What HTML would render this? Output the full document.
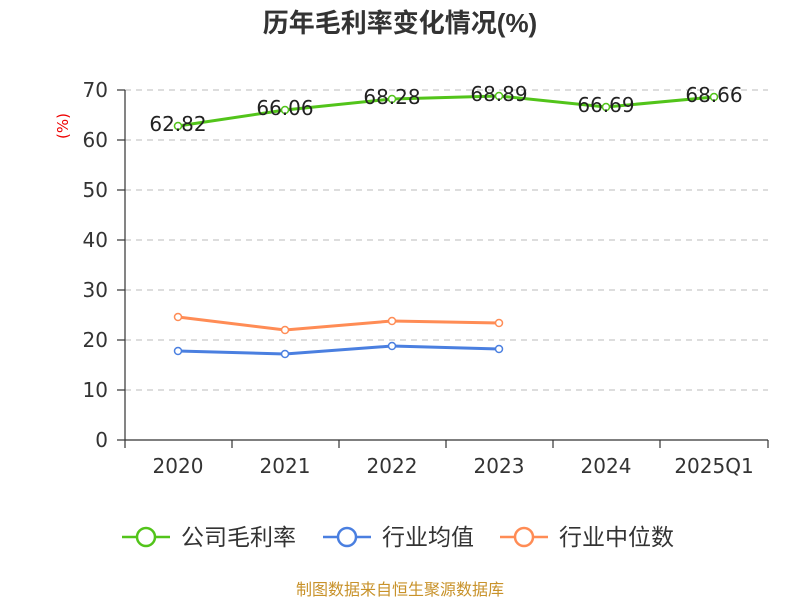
<!DOCTYPE html>
<html><head><meta charset="utf-8"><style>
body{margin:0;background:#fff;}
svg text{font-family:"DejaVu Sans","Noto Sans CJK SC",sans-serif;}
</style></head><body>
<svg width="800" height="600" xmlns="http://www.w3.org/2000/svg">
<rect width="800" height="600" fill="#fff"/>
<text x="400" y="32" text-anchor="middle" font-size="26" font-weight="bold" fill="#333" style="font-family:'Liberation Sans','Noto Sans CJK SC',sans-serif">历年毛利率变化情况(%)</text>
<text transform="translate(68,126) rotate(-90)" text-anchor="middle" font-size="15" fill="#e00">(%)</text>
<g stroke="#bbb" stroke-dasharray="6,5" stroke-width="1">
<line x1="125" y1="90" x2="768" y2="90"/><line x1="125" y1="140" x2="768" y2="140"/>
<line x1="125" y1="190" x2="768" y2="190"/><line x1="125" y1="240" x2="768" y2="240"/>
<line x1="125" y1="290" x2="768" y2="290"/><line x1="125" y1="340" x2="768" y2="340"/>
<line x1="125" y1="390" x2="768" y2="390"/>
</g>
<g stroke="#333" stroke-width="1.2">
<line x1="125" y1="90" x2="125" y2="440"/><line x1="125" y1="440" x2="768" y2="440"/>
<line x1="117" y1="90" x2="125" y2="90"/><line x1="117" y1="140" x2="125" y2="140"/><line x1="117" y1="190" x2="125" y2="190"/><line x1="117" y1="240" x2="125" y2="240"/><line x1="117" y1="290" x2="125" y2="290"/><line x1="117" y1="340" x2="125" y2="340"/><line x1="117" y1="390" x2="125" y2="390"/><line x1="117" y1="440" x2="125" y2="440"/>
<line x1="125" y1="440" x2="125" y2="448"/><line x1="232" y1="440" x2="232" y2="448"/><line x1="339" y1="440" x2="339" y2="448"/><line x1="446" y1="440" x2="446" y2="448"/><line x1="553" y1="440" x2="553" y2="448"/><line x1="660" y1="440" x2="660" y2="448"/><line x1="768" y1="440" x2="768" y2="448"/>
</g>
<g font-size="20" fill="#333" text-anchor="end">
<text x="108" y="97">70</text><text x="108" y="147">60</text><text x="108" y="197">50</text><text x="108" y="247">40</text><text x="108" y="297">30</text><text x="108" y="347">20</text><text x="108" y="397">10</text><text x="108" y="447">0</text>
</g>
<g font-size="20" fill="#333" text-anchor="middle">
<text x="178" y="473">2020</text><text x="285" y="473">2021</text><text x="392" y="473">2022</text><text x="499" y="473">2023</text><text x="606" y="473">2024</text><text x="714" y="473">2025Q1</text>
</g>
<polyline points="178,126 285,110 392,99 499,96 606,107 714,97" fill="none" stroke="#52c41a" stroke-width="3"/>
<polyline points="178,317 285,330 392,321 499,323" fill="none" stroke="#ff8c55" stroke-width="3"/>
<polyline points="178,351 285,354 392,346 499,349" fill="none" stroke="#4a7fe0" stroke-width="3"/>
<g fill="#fff" stroke-width="1.5">
<g stroke="#52c41a"><circle cx="178" cy="126" r="3.5"/><circle cx="285" cy="110" r="3.5"/><circle cx="392" cy="99" r="3.5"/><circle cx="499" cy="96" r="3.5"/><circle cx="606" cy="107" r="3.5"/><circle cx="714" cy="97" r="3.5"/></g>
<g stroke="#ff8c55"><circle cx="178" cy="317" r="3.5"/><circle cx="285" cy="330" r="3.5"/><circle cx="392" cy="321" r="3.5"/><circle cx="499" cy="323" r="3.5"/></g>
<g stroke="#4a7fe0"><circle cx="178" cy="351" r="3.5"/><circle cx="285" cy="354" r="3.5"/><circle cx="392" cy="346" r="3.5"/><circle cx="499" cy="349" r="3.5"/></g>
</g>
<g font-size="20" fill="#222" text-anchor="middle">
<text x="178" y="131">62.82</text><text x="285" y="115">66.06</text><text x="392" y="104">68.28</text><text x="499" y="101">68.89</text><text x="606" y="112">66.69</text><text x="714" y="102">68.66</text>
</g>
<g stroke-width="2.5" fill="#fff">
<line x1="122" y1="537" x2="170" y2="537" stroke="#52c41a"/><circle cx="146" cy="537" r="9" stroke="#52c41a"/>
<line x1="323" y1="537" x2="371" y2="537" stroke="#4a7fe0"/><circle cx="347" cy="537" r="9" stroke="#4a7fe0"/>
<line x1="500" y1="537" x2="548" y2="537" stroke="#ff8c55"/><circle cx="524" cy="537" r="9" stroke="#ff8c55"/>
</g>
<g font-size="23" fill="#333">
<text x="181" y="545">公司毛利率</text><text x="382" y="545">行业均值</text><text x="559" y="545">行业中位数</text>
</g>
<text x="400" y="595" text-anchor="middle" font-size="16" fill="#c8922a">制图数据来自恒生聚源数据库</text>
</svg>
</body></html>
